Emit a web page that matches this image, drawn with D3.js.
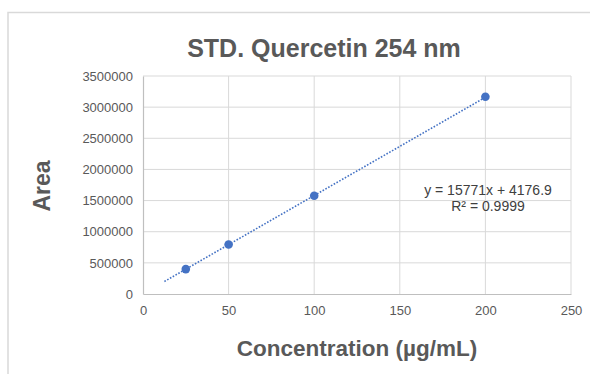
<!DOCTYPE html>
<html>
<head>
<meta charset="utf-8">
<script src="https://cdn.jsdelivr.net/npm/d3@7"></script>
<style>
  html, body { margin: 0; padding: 0; background: #fff; }
  svg { display: block; font-family: "Liberation Sans", Arial, sans-serif; }
</style>
</head>
<body>
<svg id="chart" width="590" height="374"></svg>
<script>
// Calibration standard: concentration (µg/mL) vs peak area
const concentrations = [25, 50, 100, 200];
const areas = [400000, 795000, 1578000, 3168000];
const xTicks = [0, 50, 100, 150, 200, 250];
const yTicks = [0, 500000, 1000000, 1500000, 2000000, 2500000, 3000000, 3500000];
// Linear trendline from the fit, drawn from the backward-forecast start to the last standard
const slope = 15771;
const intercept = 4176.9;
const trendRange = [12.5, 200];
const equationLines = ["y = 15771x + 4176.9", "R\u00b2 = 0.9999"];

const svg = d3.select("#chart");
const W = 590, H = 374;
const plot = { left: 143, right: 571, top: 76, bottom: 294 };

// Chart frame
svg.append("path")
  .attr("d", `M8,${H + 2} V12.5 H${W + 2}`)
  .attr("fill", "none").attr("stroke", "#d9d9d9").attr("stroke-width", 1.5);

const x = d3.scaleLinear().domain([0, 250]).range([plot.left, plot.right]);
const y = d3.scaleLinear().domain([0, 3500000]).range([plot.bottom, plot.top]);

// Gridlines
const grid = svg.append("g");
grid.selectAll(".gx").data(xTicks.slice(1)).join("line")
  .attr("x1", d => x(d)).attr("x2", d => x(d))
  .attr("y1", plot.top).attr("y2", plot.bottom)
  .attr("stroke", "#d9d9d9").attr("stroke-width", 1);
grid.selectAll(".gy").data(yTicks.slice(1)).join("line")
  .attr("x1", plot.left).attr("x2", plot.right)
  .attr("y1", d => y(d)).attr("y2", d => y(d))
  .attr("stroke", "#d9d9d9").attr("stroke-width", 1);

// Axes
const xAxis = svg.append("g")
  .attr("transform", `translate(0,${plot.bottom})`)
  .call(d3.axisBottom(x).tickValues(xTicks).tickSize(0).tickPadding(12));
const yAxis = svg.append("g")
  .attr("transform", `translate(${plot.left},0)`)
  .call(d3.axisLeft(y).tickValues(yTicks).tickSize(0).tickPadding(10).tickFormat(d3.format("d")));
[xAxis, yAxis].forEach(g => {
  g.select(".domain").attr("stroke", "#bfbfbf").attr("stroke-width", 1.2);
  g.selectAll("text").attr("fill", "#595959").attr("font-size", 13)
    .attr("font-family", "'Liberation Sans', Arial, sans-serif");
});

// Trendline
const trend = trendRange.map(c => [c, slope * c + intercept]);
svg.append("path")
  .datum(trend)
  .attr("d", d3.line().x(d => x(d[0])).y(d => y(d[1])))
  .attr("fill", "none").attr("stroke", "#4472c4").attr("stroke-width", 1.6)
  .attr("stroke-dasharray", "1.6,1.6");

// Data points
svg.append("g").selectAll("circle")
  .data(concentrations.map((c, i) => [c, areas[i]]))
  .join("circle")
  .attr("cx", d => x(d[0])).attr("cy", d => y(d[1]))
  .attr("r", 4.3).attr("fill", "#4472c4");

// Trendline label
svg.append("text")
  .attr("text-anchor", "middle").attr("fill", "#404040").attr("font-size", 14)
  .selectAll("tspan").data(equationLines).join("tspan")
  .attr("x", 488).attr("y", (d, i) => 195 + i * 16).text(d => d);

// Title and axis titles
svg.append("text")
  .attr("x", 324).attr("y", 57).attr("text-anchor", "middle")
  .attr("font-size", 25).attr("font-weight", "bold").attr("fill", "#595959")
  .text("STD. Quercetin 254 nm");
svg.append("text")
  .attr("x", 357).attr("y", 356).attr("text-anchor", "middle")
  .attr("font-size", 22.5).attr("font-weight", "bold").attr("fill", "#595959")
  .text("Concentration (\u00b5g/mL)");
svg.append("text")
  .attr("transform", `translate(50,186) rotate(-90)`).attr("text-anchor", "middle")
  .attr("font-size", 23).attr("font-weight", "bold").attr("fill", "#595959")
  .text("Area");
</script>
</body>
</html>
